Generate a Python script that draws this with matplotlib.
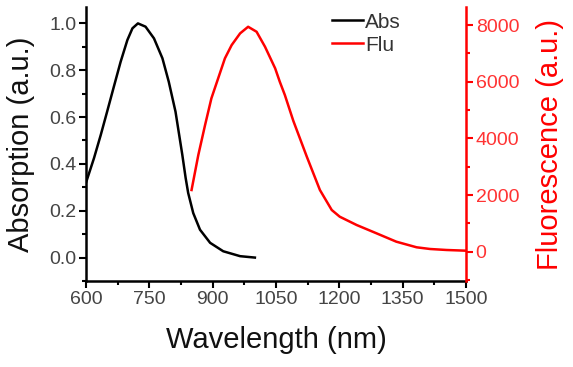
import matplotlib
matplotlib.use("Agg")
import matplotlib.pyplot as plt
from matplotlib.ticker import AutoMinorLocator

plt.rcParams['font.family'] = ['Liberation Sans', 'DejaVu Sans']

abs_wl = [600, 619, 635, 650, 666, 682, 698, 710, 723, 741, 761, 781, 796, 812, 828,
          836, 842, 854, 870, 894, 925, 965, 1000]
abs_val = [0.32, 0.425, 0.524, 0.623, 0.730, 0.836, 0.929, 0.979, 1.0, 0.986, 0.936,
           0.851, 0.751, 0.623, 0.44, 0.34, 0.276, 0.19, 0.119, 0.063, 0.027, 0.006, 0.0]

flu_wl = [850, 866, 882, 897, 913, 929, 945, 965, 984, 1004, 1024, 1048, 1059, 1071,
          1091, 1123, 1154, 1182, 1201, 1241, 1288, 1335, 1383, 1415, 1454, 1500]
flu_val = [2178, 3413, 4472, 5415, 6120, 6827, 7296, 7709, 7942, 7766, 7236, 6474,
           6000, 5531, 4620, 3353, 2178, 1472, 1235, 942, 649, 353, 155, 95, 60, 35]

x_ticks = [600, 750, 900, 1050, 1200, 1350, 1500]
left_ticks = [0.0, 0.2, 0.4, 0.6, 0.8, 1.0]
right_ticks = [0, 2000, 4000, 6000, 8000]

fig = plt.figure(figsize=(5.73, 3.67), dpi=100)
ax = fig.add_axes([86/573, 1-281/367, 380/573, 274/367])
ax2 = ax.twinx()

l1, = ax.plot(abs_wl, abs_val, color='black', lw=1.8, label='Abs')
l2, = ax2.plot(flu_wl, flu_val, color='red', lw=1.8, label='Flu')

ax.set_xlim(600, 1500)
ax.set_ylim(-0.1, 1.07)
ax2.set_ylim(-1035, 8640)

ax.set_xticks(x_ticks)
ax.set_yticks(left_ticks)
ax.set_yticklabels([f"{v:.1f}" for v in left_ticks])
ax2.set_yticks(right_ticks)
ax.xaxis.set_minor_locator(AutoMinorLocator(2))
ax.yaxis.set_minor_locator(AutoMinorLocator(2))
ax2.yaxis.set_minor_locator(AutoMinorLocator(2))

for a in (ax, ax2):
    a.spines['top'].set_visible(False)
ax.spines['right'].set_visible(False)
ax2.spines['left'].set_visible(False)
ax2.spines['bottom'].set_visible(False)
for s in ('left', 'bottom'):
    ax.spines[s].set_linewidth(1.8)
ax2.spines['right'].set_linewidth(1.8)
ax2.spines['right'].set_color('red')

tc = '#444444'
ax.tick_params(axis='both', which='major', direction='out', length=5, width=1.5,
               labelsize=14, labelcolor=tc, pad=2)
ax.tick_params(axis='both', which='minor', direction='out', length=3, width=1.5)
ax2.tick_params(axis='y', which='major', direction='out', length=5, width=1.5,
                color='red', labelcolor='#ff3333', labelsize=14, pad=2)
ax2.tick_params(axis='y', which='minor', direction='out', length=3, width=1.5, color='red')

ax.set_xlabel('Wavelength (nm)', fontsize=21, color='#111111', labelpad=13)
ax.set_ylabel('Absorption (a.u.)', fontsize=21, color='#111111', labelpad=10)
ax2.set_ylabel('Fluorescence (a.u.)', fontsize=21, color='red', labelpad=12)

ax.legend(handles=[l1, l2], loc='upper left', bbox_to_anchor=(0.625, 1.01),
          frameon=False, fontsize=15, handlelength=1.5, handletextpad=0.1,
          labelspacing=0.2, borderaxespad=0, labelcolor='#333333')

fig.savefig('out.png', dpi=100)
